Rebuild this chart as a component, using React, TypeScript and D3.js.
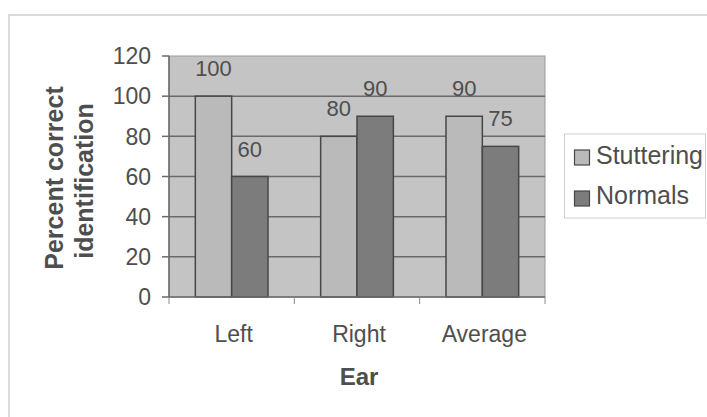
import React from "react";
import * as d3 from "d3";

const categories = ["Left", "Right", "Average"];
const seriesNames = ["Stuttering", "Normals"];
const stuttering = [100, 80, 90];
const normals = [60, 90, 75];
const yTicks = [0, 20, 40, 60, 80, 100, 120];

const W = 707;
const H = 417;
const plot = { left: 169, right: 545, top: 56, bottom: 297 };
const colors = ["#bababa", "#7c7c7c"];
const textColor = "#4e4e4e";
const font = "'Liberation Sans', Arial, sans-serif";

export default function App() {
  const x0 = d3
    .scaleBand<string>()
    .domain(categories)
    .range([plot.left, plot.right])
    .paddingInner(0.42)
    .paddingOuter(0.21);
  const x1 = d3.scaleBand<string>().domain(seriesNames).range([0, x0.bandwidth()]);
  const y = d3.scaleLinear().domain([0, 120]).range([plot.bottom, plot.top]);
  const values = [stuttering, normals];
  const step = x0.step();
  const boundaries = d3.range(categories.length + 1).map((i) => plot.left + i * step);

  return (
    <svg
      width={W}
      height={H}
      style={{ position: "absolute", left: 0, top: 0, background: "#fff" }}
      fontFamily={font}
    >
      <rect x={0} y={0} width={W} height={H} fill="#fff" />
      {/* outer chart frame */}
      <path d={`M9,${H} V15 H${W}`} fill="none" stroke="#cfcfcf" strokeWidth={1.5} />

      {/* plot area */}
      <rect
        x={plot.left}
        y={plot.top}
        width={plot.right - plot.left}
        height={plot.bottom - plot.top}
        fill="#c4c4c4"
        stroke="#9a9a9a"
        strokeWidth={1}
      />
      {/* gridlines and y ticks */}
      {yTicks.map((t) => (
        <g key={t}>
          {t > 0 && t < 120 && (
            <line x1={plot.left} x2={plot.right} y1={y(t)} y2={y(t)} stroke="#6a6a6a" strokeWidth={1.5} />
          )}
          <line x1={162} x2={plot.left} y1={y(t)} y2={y(t)} stroke="#6a6a6a" strokeWidth={1.5} />
          <text
            x={151}
            y={y(t)}
            dy="0.36em"
            textAnchor="end"
            fontSize={23}
            fill={textColor}
          >
            {t}
          </text>
        </g>
      ))}

      {/* bars */}
      {categories.map((c, ci) =>
        seriesNames.map((s, si) => {
          const v = values[si][ci];
          const bx = (x0(c) as number) + (x1(s) as number);
          return (
            <g key={c + s}>
              <rect
                x={bx}
                y={y(v)}
                width={x1.bandwidth()}
                height={y(0) - y(v)}
                fill={colors[si]}
                stroke="#474747"
                strokeWidth={1.5}
              />
              <text
                x={bx + x1.bandwidth() / 2}
                y={y(v) - 20}
                textAnchor="middle"
                fontSize={22}
                fill={textColor}
              >
                {v}
              </text>
            </g>
          );
        })
      )}

      {/* axes */}
      <line x1={plot.left} x2={plot.left} y1={plot.top} y2={plot.bottom} stroke="#6a6a6a" strokeWidth={1.5} />
      <line x1={plot.left} x2={plot.right} y1={plot.bottom} y2={plot.bottom} stroke="#6a6a6a" strokeWidth={1.5} />
      {boundaries.map((bx, i) => (
        <line key={i} x1={bx} x2={bx} y1={plot.bottom} y2={plot.bottom + 7} stroke="#8a8a8a" strokeWidth={1} />
      ))}
      {categories.map((c) => (
        <text
          key={c}
          x={(x0(c) as number) + x0.bandwidth() / 2 + 2}
          y={342}
          textAnchor="middle"
          fontSize={23}
          fill={textColor}
        >
          {c}
        </text>
      ))}

      {/* axis titles */}
      <text x={359} y={385} textAnchor="middle" fontSize={24} fontWeight="bold" fill={textColor}>
        Ear
      </text>
      <text
        transform="translate(63,178) rotate(-90)"
        textAnchor="middle"
        fontSize={25}
        fontWeight="bold"
        fill={textColor}
      >
        Percent correct
      </text>
      <text
        transform="translate(93,181) rotate(-90)"
        textAnchor="middle"
        fontSize={25}
        fontWeight="bold"
        fill={textColor}
      >
        identification
      </text>

      {/* legend */}
      <rect x={564.5} y={134} width={141} height={84} fill="#fff" stroke="#cfcfcf" strokeWidth={1} />
      {seriesNames.map((s, i) => (
        <g key={s}>
          <rect
            x={574.5}
            y={150 + i * 41}
            width={15}
            height={15}
            fill={colors[i]}
            stroke="#474747"
            strokeWidth={1.2}
          />
          <text x={596} y={164 + i * 40} fontSize={25} fill={textColor}>
            {s}
          </text>
        </g>
      ))}
    </svg>
  );
}
